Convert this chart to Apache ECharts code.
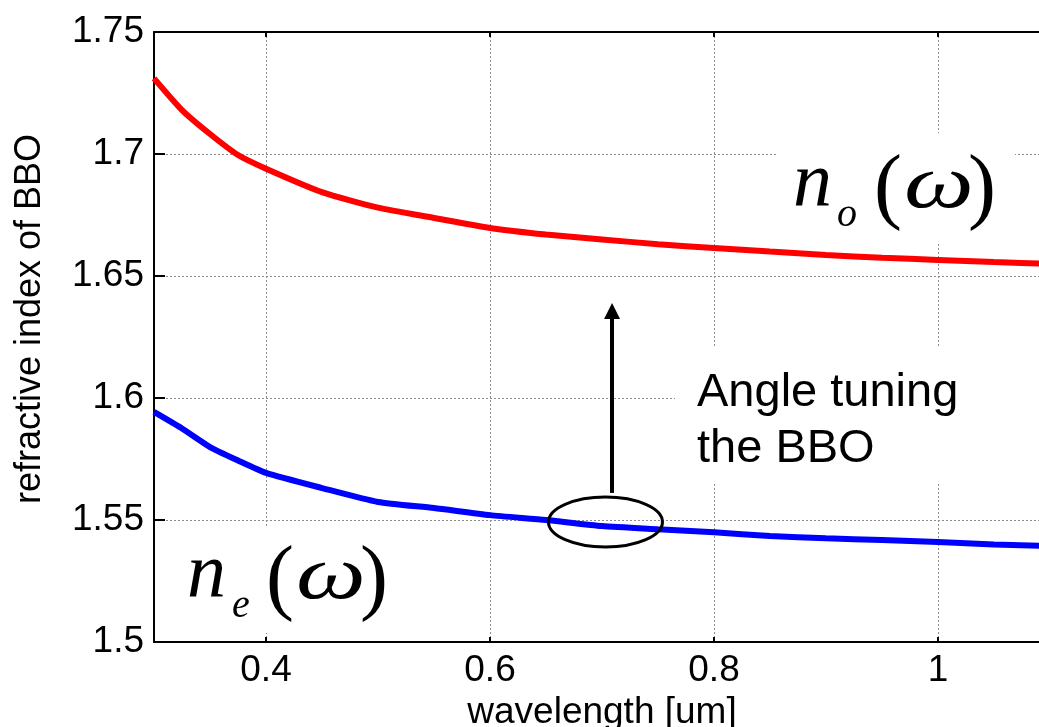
<!DOCTYPE html>
<html>
<head>
<meta charset="utf-8">
<script src="https://cdn.jsdelivr.net/npm/echarts@6/dist/echarts.min.js"></script>
<style>
  html, body { margin: 0; padding: 0; background: #fff; overflow: hidden; }
  #c { width: 1039px; height: 727px; }
</style>
</head>
<body>
<div id="c"></div>
<script>
// wavelength in um, refractive indices
var wavelength = [0.3, 0.325, 0.35, 0.375, 0.4, 0.45, 0.5, 0.55, 0.6, 0.65, 0.7, 0.75, 0.8, 0.85, 0.9, 0.95, 1.0, 1.05, 1.1];
var nOrdinary  = [1.731, 1.718, 1.7082, 1.6996, 1.694, 1.6844, 1.678, 1.6738, 1.6697, 1.667, 1.665, 1.663, 1.6615, 1.660, 1.6586, 1.6575, 1.6566, 1.6557, 1.655];
var nExtra     = [1.5943, 1.5875, 1.5799, 1.5744, 1.5693, 1.5631, 1.5574, 1.5549, 1.552, 1.550, 1.5475, 1.5462, 1.545, 1.5434, 1.5425, 1.5418, 1.541, 1.540, 1.5393];
var xTicks = [0.4, 0.6, 0.8, 1.0];

// annotation: arrow and ellipse (data coords)
var arrowFrom = [0.709, 1.5611];
var arrowTo = [0.709, 1.6357];
var ringCenter = [0.7031, 1.5492];

var sans = 'Liberation Sans';
var serif = 'Liberation Serif';

var chart = echarts.init(document.getElementById('c'));

function pairs(ys) {
    return wavelength.map(function (w, i) { return [w, ys[i]]; });
}

var gridLine = { show: true, lineStyle: { color: '#8c8c8c', type: [2, 2], width: 1 } };

var option = {
    animation: false,
    grid: { left: 154, top: 32, width: 896, height: 610, containLabel: false, outerBoundsMode: 'none' },
    xAxis: [{
        type: 'value', min: 0.3, max: 1.1, interval: 0.1,
        name: 'wavelength [um]', nameLocation: 'middle', nameGap: 48,
        nameTextStyle: { fontFamily: sans, fontSize: 37, color: '#000' },
        axisLine: { lineStyle: { color: '#000', width: 2 } },
        axisTick: { inside: true, length: 5, customValues: xTicks, lineStyle: { color: '#000', width: 2 } },
        axisLabel: { customValues: xTicks, fontFamily: sans, fontSize: 37, color: '#000', margin: 10,
            formatter: function (v) { return String(+v.toFixed(2)); } },
        splitLine: gridLine
    }, {
        type: 'value', min: 0.3, max: 1.1, position: 'top', interval: 0.1,
        axisLine: { lineStyle: { color: '#000', width: 2 } },
        axisTick: { inside: true, length: 5, customValues: xTicks, lineStyle: { color: '#000', width: 2 } },
        axisLabel: { show: false },
        splitLine: { show: false }
    }],
    yAxis: [{
        type: 'value', min: 1.5, max: 1.75, interval: 0.05,
        name: 'refractive index of BBO', nameLocation: 'middle', nameGap: 106,
        nameTextStyle: { fontFamily: sans, fontSize: 36, color: '#000', padding: [0, 0, 0, 36] },
        axisLine: { show: true, lineStyle: { color: '#000', width: 2 } },
        axisTick: { show: true, inside: true, length: 11, lineStyle: { color: '#000', width: 2 } },
        axisLabel: { fontFamily: sans, fontSize: 37, color: '#000', margin: 10,
            formatter: function (v) { return String(+v.toFixed(2)); } },
        splitLine: gridLine
    }, {
        type: 'value', min: 1.5, max: 1.75, interval: 0.05, position: 'right',
        axisLine: { show: true, lineStyle: { color: '#000', width: 2 } },
        axisTick: { show: true, inside: true, length: 11, lineStyle: { color: '#000', width: 2 } },
        axisLabel: { show: false },
        splitLine: { show: false }
    }],
    series: [{
        name: 'n_o', type: 'line', data: pairs(nOrdinary),
        symbol: 'none', z: 5, smooth: 0.2,
        lineStyle: { color: '#ff0000', width: 6 }
    }, {
        name: 'n_e', type: 'line', data: pairs(nExtra),
        symbol: 'none', z: 5, smooth: 0.2,
        lineStyle: { color: '#0000ff', width: 6 },
        markLine: {
            silent: true,
            symbol: ['none', 'triangle'],
            symbolSize: [16, 16],
            label: { show: false },
            lineStyle: { color: '#000', width: 4, type: 'solid' },
            data: [[{ coord: arrowFrom }, { coord: arrowTo }]]
        }
    }]
};
chart.setOption(option);

var c = chart.convertToPixel({ gridIndex: 0 }, ringCenter);

function label(x, y, text, font, size, italic, sx) {
    return {
        type: 'text', x: x, y: y, z: 60, scaleX: sx || 1,
        style: { text: text, fontFamily: font, fontSize: size, fontStyle: italic ? 'italic' : 'normal',
            fill: '#000', align: 'left', verticalAlign: 'middle' }
    };
}

chart.setOption({
    graphic: [
        // white boxes behind the labels, as in the original
        { type: 'rect', z: 50, shape: { x: 778, y: 133, width: 237, height: 110 }, style: { fill: '#fff' } },
        { type: 'rect', z: 50, shape: { x: 675, y: 347, width: 380, height: 136 }, style: { fill: '#fff' } },
        { type: 'rect', z: 50, shape: { x: 158, y: 527, width: 280, height: 106 }, style: { fill: '#fff' } },
        label(793, 185, 'n', serif, 78, true),
        label(837, 215, 'o', serif, 40, true),
        label(874, 191, '(', serif, 84, false),
        label(904, 187, 'ω', serif, 76, true, 1.3),
        label(968, 191, ')', serif, 84, false),
        label(187, 576, 'n', serif, 78, true),
        label(232, 606, 'e', serif, 40, true),
        label(266, 582, '(', serif, 84, false),
        label(296, 578, 'ω', serif, 76, true, 1.3),
        label(360, 582, ')', serif, 84, false),
        {
            type: 'text', x: 697, y: 365, z: 60,
            style: { text: 'Angle tuning\nthe BBO', fontFamily: sans, fontSize: 47, lineHeight: 56,
                fill: '#000', align: 'left', verticalAlign: 'top' }
        },
        {
            type: 'ellipse', z: 60,
            shape: { cx: c[0], cy: c[1], rx: 57, ry: 25 },
            style: { fill: 'none', stroke: '#000', lineWidth: 3 }
        }
    ]
});
</script>
</body>
</html>
